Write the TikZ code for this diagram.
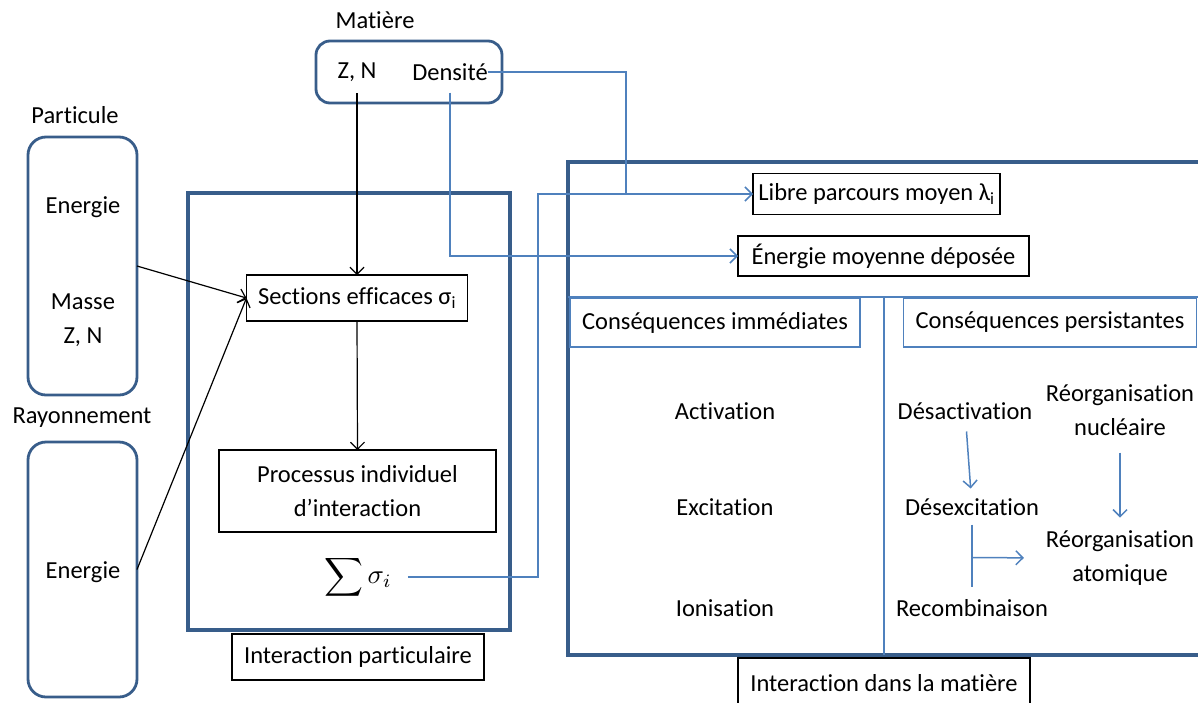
\documentclass[tikz,border=0pt]{standalone}
\usepackage{fontspec}
\setmainfont{Carlito}[Ligatures=NoCommon]
\usetikzlibrary{arrows.meta,calc}
\definecolor{frameblue}{RGB}{56,93,138}
\definecolor{lineblue}{RGB}{79,129,189}
\begin{document}
\begin{tikzpicture}[x=1pt,y=-1pt,
  font=\fontsize{24.5}{34}\selectfont,
  every node/.style={inner sep=0pt, outer sep=0pt, align=center},
  bbox/.style={draw=black, line width=1.2pt},
  tbox/.style={draw=lineblue, line width=1.2pt},
  rbox/.style={draw=frameblue, line width=2.8pt, rounded corners=18pt},
  frame/.style={draw=frameblue, line width=3.2pt},
  blk/.style={draw=black, line width=1.2pt, -{Straight Barb[length=7pt,width=14pt]}},
  blu/.style={draw=lineblue, line width=1.5pt},
  bluarr/.style={blu, -{Straight Barb[length=7pt,width=14pt]}}]
\useasboundingbox (0,0) rectangle (1198,702);

% Matiere
\node (tmat) at (375,20) {Matière};
\node[rbox, minimum width=186, minimum height=62, rounded corners=14pt] (mat) at (409,72) {};
\node (zn) at (357,72) {Z, N};
\node (dens) at (450,72) {Densité};

% Particule
\node (tpart) at (75,115) {Particule};
\node[rbox, minimum width=109, minimum height=258] (part) at (82.5,266) {};
\node (pe) at (83,207) {Energie};
\node (pm) at (83,320) {Masse\\Z, N};

% Rayonnement
\node (tray) at (82,418) {Rayonnement};
\node[rbox, minimum width=109, minimum height=255] (ray) at (82.5,569.5) {};
\node (re) at (83,572) {Energie};

% Interaction particulaire
\node[frame, minimum width=322, minimum height=437] (ip) at (349,411.5) {};
\node[bbox, minimum width=221, minimum height=46] (sec) at (357,298) {Sections efficaces σ\textsubscript{i}};
\node[bbox, minimum width=277, minimum height=82] (proc) at (357.5,491) {Processus individuel\\d’interaction};
\node[font=\fontsize{10}{12}\selectfont, scale=2.7] (sum) at (358,577) {$\displaystyle\sum\sigma_i$};
\node[bbox, minimum width=252, minimum height=46] (lip) at (358,657) {Interaction particulaire};

% Interaction dans la matiere
\coordinate (f1) at (1198,162);
\coordinate (f2) at (568,162);
\coordinate (f3) at (568,655);
\coordinate (f4) at (1198,655);
\draw[frame] (f1) -- (f2) -- (f3) -- (f4);
\coordinate (h1) at (568,297);
\coordinate (h2) at (1198,297);
\coordinate (v1) at (884,297);
\coordinate (v2) at (884,655);
\draw[blu, line width=1.2pt] (h1) -- (h2);
\draw[blu, line width=1.2pt] (v1) -- (v2);

\node[bbox, minimum width=247, minimum height=41] (lib) at (876.5,194) {Libre parcours moyen λ\textsubscript{i}};
\node[bbox, minimum width=291, minimum height=40] (ene) at (883.5,256) {Énergie moyenne déposée};
\node[tbox, minimum width=290, minimum height=49] (ci) at (715,322.5) {Conséquences immédiates};
\node[tbox, minimum width=293, minimum height=49] (cp) at (1050,322.5) {Conséquences persistantes};

\node (act) at (725,411) {Activation};
\node (exc) at (725,507) {Excitation};
\node (ion) at (725,608) {Ionisation};
\node (desact) at (965,411) {Désactivation};
\node (desex) at (972,507) {Désexcitation};
\node (recomb) at (972,608) {Recombinaison};
\node (reonuc) at (1120,410) {Réorganisation\\nucléaire};
\node (reoat) at (1120,558) {Réorganisation\\atomique};

\node[bbox, minimum width=292, minimum height=50] (lim) at (884,683) {Interaction dans la matière};

% connectors
\coordinate (j) at (626,194);
\coordinate (k) at (538,194);
\draw[blk] ([yshift=-12pt]zn.south) -- (zn.south |- sec.north);
\draw[blk] (sec.south) -- (proc.north);
\draw[blk] (part.east) -- (sec.west);
\draw[blk] (ray.east) -- (sec.west);
\draw[bluarr] ([yshift=-12pt]dens.south) |- (ene.west);
\draw[blu] (dens.east) -| (j);
\draw[bluarr] ([xshift=16pt]sum.east) -| (k) -- (lib.west);

\draw[bluarr, shorten <=12pt, shorten >=10pt] (desact) -- (desex);
\draw[bluarr, shorten <=17pt, shorten >=13pt] (reonuc) -- (reoat);
\draw[blu, shorten <=9pt, shorten >=12pt] (desex) -- (recomb);
\draw[bluarr, shorten >=22pt] ($(desex)!0.5!(recomb)$) -- (reoat.west);
\end{tikzpicture}
\end{document}
